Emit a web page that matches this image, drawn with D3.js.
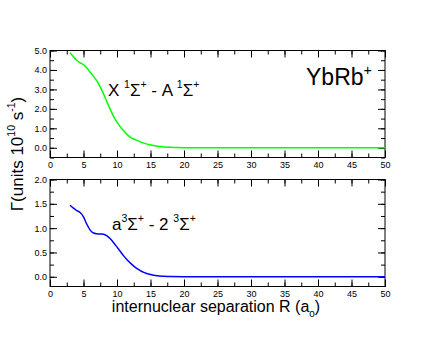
<!DOCTYPE html>
<html>
<head>
<meta charset="utf-8">
<script src="https://cdn.jsdelivr.net/npm/d3@7.9.0/dist/d3.min.js"></script>
<style>
  body { margin: 0; background: #fff; }
  svg { font-family: "Liberation Sans", Arial, sans-serif; }
  .tick text { font-size: 9px; }
</style>
</head>
<body>
<svg id="chart" width="436" height="337"></svg>
<script>
// internuclear separation R (a0)
const rTop = [3, 3.5, 4, 4.5, 5, 5.5, 6, 6.5, 7, 7.5, 8, 8.5, 9, 9.5, 10, 10.5, 11, 11.5, 12, 13, 14, 15, 16, 17, 18, 19, 20, 22, 25, 30, 40, 50];
const gammaX = [4.88, 4.68, 4.5, 4.37, 4.27, 4.1, 3.88, 3.67, 3.43, 3.13, 2.76, 2.36, 1.96, 1.6, 1.32, 1.08, 0.87, 0.68, 0.54, 0.38, 0.24, 0.14, 0.08, 0.045, 0.025, 0.012, 0.006, 0.002, 0, 0, 0, 0];

const rBot = [3, 3.5, 4, 4.5, 5, 5.5, 6, 6.5, 7, 7.5, 8, 8.5, 9, 9.5, 10, 10.5, 11, 11.5, 12, 12.5, 13, 14, 15, 16, 17, 18, 20, 25, 30, 40, 50];
const gammaA = [1.47, 1.41, 1.36, 1.32, 1.23, 1.08, 0.96, 0.9, 0.885, 0.88, 0.875, 0.84, 0.78, 0.7, 0.61, 0.52, 0.43, 0.35, 0.28, 0.22, 0.17, 0.09, 0.045, 0.02, 0.01, 0.004, 0.001, 0, 0, 0, 0];

const xTicks = [0, 5, 10, 15, 20, 25, 30, 35, 40, 45, 50];
const yTicksTop = [0, 1, 2, 3, 4, 5];
const yTicksBot = [0, 0.5, 1, 1.5, 2];

const svg = d3.select('#chart');
const left = 50, right = 385;

let x = d3.scaleLinear().domain([0, 50]).range([left, right]);

function panel(top, bottom, yDomain, yTicks, yMinor, rs, vals, color) {
  let y = d3.scaleLinear().domain(yDomain).range([bottom, top]);
  let g = svg.append('g');
  let xMinor = d3.range(0, 50.01, 2.5);

  // minor ticks, all four sides, pointing inward
  g.append('g').attr('transform', `translate(0,${bottom})`)
    .call(d3.axisBottom(x).tickValues(xMinor).tickSize(-4).tickFormat(() => ''));
  g.append('g').attr('transform', `translate(0,${top})`)
    .call(d3.axisTop(x).tickValues(xMinor).tickSize(-4).tickFormat(() => ''));
  g.append('g').attr('transform', `translate(${left},0)`)
    .call(d3.axisLeft(y).tickValues(yMinor).tickSize(-4).tickFormat(() => ''));
  g.append('g').attr('transform', `translate(${right},0)`)
    .call(d3.axisRight(y).tickValues(yMinor).tickSize(-4).tickFormat(() => ''));

  // major ticks
  g.append('g').attr('transform', `translate(0,${bottom})`)
    .call(d3.axisBottom(x).tickValues(xTicks).tickSize(-7).tickPadding(4).tickFormat(d3.format('d')));
  g.append('g').attr('transform', `translate(0,${top})`)
    .call(d3.axisTop(x).tickValues(xTicks).tickSize(-7).tickFormat(() => ''));
  g.append('g').attr('transform', `translate(${left},0)`)
    .call(d3.axisLeft(y).tickValues(yTicks).tickSize(-7).tickPadding(3).tickFormat(d3.format('.1f')));
  g.append('g').attr('transform', `translate(${right},0)`)
    .call(d3.axisRight(y).tickValues(yTicks).tickSize(-7).tickFormat(() => ''));

  g.selectAll('.domain').remove();
  g.selectAll('.tick line').attr('stroke', '#000');
  g.selectAll('.tick text').attr('fill', '#000');

  g.append('rect')
    .attr('x', left).attr('y', top)
    .attr('width', right - left).attr('height', bottom - top)
    .attr('fill', 'none').attr('stroke', '#000').attr('stroke-width', 1);

  let line = d3.line()
    .x((d, i) => x(rs[i]))
    .y(d => y(d))
    .curve(d3.curveMonotoneX);
  g.append('path')
    .datum(vals)
    .attr('d', line)
    .attr('fill', 'none')
    .attr('stroke', color)
    .attr('stroke-width', 1.5);
}

panel(50.5, 157.5, [-0.5, 5], yTicksTop, d3.range(-0.5, 5.01, 0.5), rTop, gammaX, '#00ff00');
panel(179.5, 286.5, [-0.2, 2], yTicksBot, d3.range(0, 2.01, 0.25), rBot, gammaA, '#0000ff');

// text with superscripts / subscripts
function rich(parent, parts, size) {
  parts.forEach(([s, kind]) => {
    let sp = parent.append('tspan').text(s);
    if (kind === 'sup') sp.attr('font-size', size * 0.62).attr('dy', -size * 0.45);
    else if (kind === 'sub') sp.attr('font-size', size * 0.62).attr('dy', size * 0.3);
    else if (kind === 'back') sp.attr('dy', size * 0.45);
    else if (kind === 'backsub') sp.attr('dy', -size * 0.3);
  });
}

let t1 = svg.append('text').attr('x', 108).attr('y', 96).attr('font-size', 17);
rich(t1, [['X '], ['1', 'sup'], ['Σ', 'back'], ['+', 'sup'], [' - A ', 'back'], ['1', 'sup'], ['Σ', 'back'], ['+', 'sup']], 17);

let t2 = svg.append('text').attr('x', 112).attr('y', 230).attr('font-size', 17);
rich(t2, [['a'], ['3', 'sup'], ['Σ', 'back'], ['+', 'sup'], [' - 2 ', 'back'], ['3', 'sup'], ['Σ', 'back'], ['+', 'sup']], 17);

let t3 = svg.append('text').attr('x', 306).attr('y', 85).attr('font-size', 23);
rich(t3, [['YbRb'], ['+', 'sup']], 23);

let t4 = svg.append('text').attr('x', 216).attr('y', 312).attr('font-size', 16).attr('text-anchor', 'middle');
rich(t4, [['internuclear separation R (a'], ['0', 'sub'], [')', 'backsub']], 16);

let t5 = svg.append('text')
  .attr('transform', 'translate(23,154) rotate(-90)')
  .attr('font-size', 17).attr('text-anchor', 'middle');
rich(t5, [['Γ(units 10'], ['10', 'sup'], [' s', 'back'], ['-1', 'sup'], [')', 'back']], 17);
</script>
</body>
</html>
